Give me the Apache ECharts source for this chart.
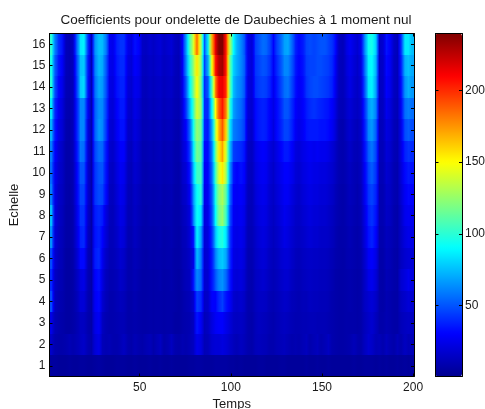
<!DOCTYPE html>
<html>
<head>
<meta charset="utf-8">
<title>Coefficients</title>
<script src="https://cdn.jsdelivr.net/npm/echarts@6/dist/echarts.min.js"></script>
<style>
html, body { margin: 0; padding: 0; background: #fff; }
#chart { width: 485px; height: 409px; }
</style>
</head>
<body>
<div id="chart"></div>
<script>
// une ligne par echelle, une valeur tous les 2 pas de temps
var echelle1 = [5,5,4,4,4,5,4,4,5,5, 4,4,5,6,5,4,4,4,5,5, 5,4,4,5,4,4,4,5,4,4, 5,4,4,5,4,4,4,4,5,5, 6,6,5,5,5,6,6,6,6,5, 5,4,5,4,4,4,4,5,5,4, 4,4,4,5,5,4,4,4,4,4, 5,4,4,5,4,4,5,4,4,4, 4,4,4,5,4,4,5,5,5,4, 5,4,5,4,4,5,4,5,4,5];
var echelle2 = [16,9,8,8,9,11,9,11,14,16, 10,8,20,24,12,10,11,9,9,11, 14,9,8,11,9,8,10,12,8,11, 14,8,10,14,9,8,10,9,11,14, 25,22,11,12,18,20,20,22,20,16, 13,11,14,12,9,8,12,13,12,11, 9,9,11,12,13,11,9,10,9,11, 13,9,11,13,9,11,14,9,8,7, 7,8,9,12,9,8,14,18,16,11, 12,9,13,10,8,12,9,14,11,12];
var echelle3 = [24,11,9,8,6,6,7,10,14,14, 9,7,24,28,14,10,9,9,10,11, 11,8,8,9,8,7,7,8,7,8, 8,7,8,8,6,6,8,9,10,14, 35,28,12,14,22,28,30,30,25,20, 15,14,15,13,9,8,12,14,13,12, 10,9,11,13,14,13,11,10,10,11, 11,12,12,11,11,11,10,9,8,7, 7,8,8,8,7,8,13,16,18,13, 8,8,10,9,7,7,12,14,15,14];
var echelle4 = [48,13,10,9,6,6,7,12,20,20, 10,7,28,32,18,12,9,9,11,13, 12,8,8,10,8,7,7,8,7,8, 8,7,8,8,7,6,8,10,12,18, 45,40,15,16,30,30,40,45,35,28, 18,16,18,15,9,9,13,15,15,14, 11,10,12,14,16,15,12,11,10,12, 12,14,13,13,12,12,11,9,8,7, 7,8,9,8,7,8,15,18,20,16, 8,7,10,9,7,7,14,17,20,18];
var echelle5 = [40,15,11,10,6,6,7,14,22,24, 11,7,30,34,22,13,10,10,12,16, 14,9,9,11,9,7,7,8,7,8, 9,7,8,9,7,6,9,12,14,35, 62,55,18,18,35,50,62,65,55,35, 22,20,22,18,10,9,14,16,18,16, 13,11,13,16,18,18,14,12,11,13, 14,15,14,14,13,13,12,10,8,7, 7,8,9,8,7,8,16,24,26,20, 8,7,11,10,8,7,18,22,26,22];
var echelle6 = [48,18,13,11,6,6,8,18,32,32, 12,7,36,40,26,16,11,11,14,18, 16,9,9,12,10,8,7,9,8,9, 9,8,9,9,7,7,10,12,16,25, 75,60,18,20,36,60,75,78,70,40, 24,22,24,20,10,10,15,18,20,18, 14,12,14,18,20,20,16,13,12,14, 15,16,15,15,14,14,13,11,9,8, 7,9,10,9,8,9,18,28,30,24, 8,8,12,11,8,7,14,18,20,20];
var echelle7 = [65,20,14,12,7,7,9,22,38,40, 14,7,34,38,30,20,12,12,16,22, 20,10,10,14,11,8,8,9,8,9, 10,8,9,10,8,7,11,13,20,35, 88,70,20,22,42,75,95,98,85,42, 26,24,26,22,11,11,16,20,22,20, 16,13,16,20,24,22,18,15,14,16, 18,20,18,18,16,16,15,13,10,8, 8,9,11,9,8,10,22,34,38,30, 9,9,13,12,9,8,15,22,25,24];
var echelle8 = [75,22,15,13,7,7,9,25,42,42, 16,7,36,40,36,22,13,12,18,24, 22,11,11,15,12,9,8,10,9,10, 10,9,10,10,8,8,12,15,22,60, 92,85,22,25,48,90,118,125,105,48, 28,26,28,24,12,12,18,22,24,22, 17,14,18,22,26,24,20,16,15,18, 20,22,20,20,18,18,16,14,11,9, 8,10,12,10,9,11,24,38,42,34, 10,10,15,14,9,8,16,26,28,26];
var echelle9 = [60,24,16,14,8,7,10,28,46,46, 18,8,42,48,46,32,14,13,20,26, 24,12,11,16,13,9,9,10,9,10, 11,9,10,11,8,8,14,17,28,65, 92,100,25,28,50,95,122,130,112,55, 30,28,30,26,13,12,20,24,26,24, 18,15,20,24,28,28,22,18,16,20, 22,24,22,22,20,20,18,16,12,9, 8,10,13,11,9,12,28,42,46,38, 10,10,16,15,10,9,18,28,32,30];
var echelle10 = [55,26,18,15,8,8,10,30,50,50, 18,8,42,50,50,34,16,14,22,28, 26,13,12,18,15,10,9,11,10,11, 12,10,11,12,9,8,16,20,35,75, 105,105,28,30,55,105,140,155,130,65, 35,30,34,30,14,13,22,26,28,26, 20,16,22,26,30,30,26,20,18,22, 24,26,24,24,22,22,20,18,14,10, 9,11,14,11,10,13,30,46,52,42, 11,11,18,16,10,9,20,32,36,34];
var echelle11 = [60,30,20,16,8,8,11,34,58,56, 20,8,46,56,54,36,18,16,24,30, 30,14,13,20,16,10,10,12,10,12, 13,10,12,12,9,9,18,25,45,85, 118,110,32,32,60,115,155,172,140,75, 45,42,40,34,15,14,24,28,30,28, 22,18,24,30,36,36,30,22,20,24, 26,28,26,28,26,26,24,20,15,10, 9,12,16,12,11,14,34,52,58,46, 12,12,20,18,11,10,22,38,42,40];
var echelle12 = [72,36,24,20,9,8,12,38,62,62, 22,9,52,66,62,44,20,18,28,34, 34,16,15,22,18,11,11,13,11,13, 14,11,13,13,10,9,20,30,55,95, 125,115,38,35,70,130,170,190,160,85, 60,56,52,44,18,16,32,36,38,36, 30,22,32,38,46,46,38,28,24,28, 34,36,36,36,34,34,32,28,20,10, 9,14,18,14,12,16,38,62,66,52, 12,13,22,20,12,10,24,48,52,48];
var echelle13 = [85,40,28,22,10,9,12,38,62,62, 28,9,52,64,62,46,22,20,30,36, 36,18,16,24,20,12,11,14,12,14, 15,12,14,14,11,10,22,42,75,105, 140,125,40,40,90,150,190,205,180,100, 68,60,55,45,20,18,32,36,38,36, 30,24,32,40,50,50,40,30,26,30, 36,40,42,40,38,36,34,30,22,12, 11,16,20,16,14,18,42,66,72,60, 13,14,26,22,13,11,28,56,60,56];
var echelle14 = [98,48,32,26,11,10,12,45,78,82, 34,10,56,70,66,50,24,22,34,38, 38,20,18,26,24,13,12,15,13,15, 16,13,15,16,12,11,25,50,90,118, 150,120,40,50,110,180,212,215,200,115, 75,65,60,50,22,20,40,44,46,44, 38,26,36,46,56,58,46,34,28,32, 42,46,48,48,46,44,42,38,26,13, 12,18,24,18,15,20,52,85,88,68, 14,15,30,26,14,12,32,65,72,66];
var echelle15 = [95,52,36,30,12,10,13,48,76,78, 36,10,60,74,70,52,26,24,36,40, 40,22,20,30,26,14,13,16,14,17, 18,14,16,18,13,11,28,60,100,125, 155,125,45,70,150,205,228,232,205,115, 80,70,62,52,25,20,42,46,50,48, 42,28,40,50,62,62,50,36,30,34, 44,46,46,48,48,46,44,40,28,13, 12,20,25,20,16,22,58,88,90,72, 14,16,32,28,14,12,36,72,76,70];
var echelle16 = [100,60,42,35,12,10,14,55,85,88, 42,12,64,76,74,60,28,25,38,42, 42,25,22,34,30,15,14,18,15,18, 20,15,18,20,14,12,30,65,110,140, 185,130,50,85,170,215,240,240,205,130, 90,72,62,50,25,20,44,50,56,54, 46,30,45,55,68,70,55,38,32,36, 46,48,46,48,50,50,46,42,32,14, 12,22,28,22,18,25,65,92,95,78, 15,18,35,30,15,12,40,85,85,75];

var lignes = [echelle1, echelle2, echelle3, echelle4, echelle5, echelle6, echelle7, echelle8,
    echelle9, echelle10, echelle11, echelle12, echelle13, echelle14, echelle15, echelle16];
var ticksTemps = [50, 100, 150, 200];
var ticksEchelle = [1, 2, 3, 4, 5, 6, 7, 8, 9, 10, 11, 12, 13, 14, 15, 16];
var ticksCouleur = [50, 100, 150, 200];
var pasTemps = 2;
var vMin = 0.7, vMax = 239.6;
var jet = ['#00008f', '#0000ff', '#0080ff', '#00ffff', '#80ff80', '#ffff00', '#ff8000', '#ff0000', '#800000'];

var cellules = [];
lignes.forEach(function (ligne, i) {
    ligne.forEach(function (v, k) {
        // voisins gardes pour le degrade horizontal de la cellule
        var avant = k > 0 ? ligne[k - 1] : v;
        var apres = k < ligne.length - 1 ? ligne[k + 1] : v;
        cellules.push([0.5 + k * pasTemps, 0.5 + (k + 1) * pasTemps, i + 1, v, avant, apres]);
    });
});

function couleurJet(v) {
    var t = Math.max(0, Math.min(1, (v - vMin) / (vMax - vMin)));
    return echarts.color.lerp(t, jet);
}

var police = 'Liberation Sans';
var couleurTexte = '#1a1a1a';

function axeCadre(extra) {
    return Object.assign({
        type: 'value',
        splitLine: { show: false },
        axisLine: { show: true, onZero: false, lineStyle: { color: '#000', width: 1 } },
        axisTick: { show: true, inside: true, length: 3, lineStyle: { color: '#000' } },
        axisLabel: { show: false },
        z: 5
    }, extra);
}
function ticks(valeurs) {
    return { show: true, inside: true, length: 3, customValues: valeurs, lineStyle: { color: '#000' } };
}
function labels(valeurs, marge) {
    return { show: true, customValues: valeurs, margin: marge, fontFamily: police, fontSize: 12, color: couleurTexte };
}

var myChart = echarts.init(document.getElementById('chart'), null, { renderer: 'canvas' });

var option = {
    backgroundColor: '#fff',
    animation: false,
    title: {
        text: 'Coefficients pour ondelette de Daubechies à 1 moment nul',
        left: 231, top: 8, textAlign: 'center',
        textStyle: { fontFamily: police, fontSize: 13.5, fontWeight: 'normal', color: couleurTexte }
    },
    grid: [
        { left: 49.5, top: 33.5, width: 364.5, height: 343, outerBoundsMode: 'none' },
        { left: 435.5, top: 33.5, width: 26.5, height: 343, outerBoundsMode: 'none' }
    ],
    xAxis: [
        axeCadre({
            gridIndex: 0, min: 0.5, max: 200.5, position: 'bottom',
            axisTick: ticks(ticksTemps),
            axisLabel: labels(ticksTemps, 5),
            name: 'Temps', nameLocation: 'middle', nameGap: 19,
            nameTextStyle: { fontFamily: police, fontSize: 13, color: couleurTexte }
        }),
        axeCadre({ gridIndex: 0, min: 0.5, max: 200.5, position: 'top', axisTick: ticks(ticksTemps) }),
        axeCadre({ gridIndex: 1, min: 0, max: 1, position: 'bottom', axisTick: { show: false } }),
        axeCadre({ gridIndex: 1, min: 0, max: 1, position: 'top', axisTick: { show: false } })
    ],
    yAxis: [
        axeCadre({
            gridIndex: 0, min: 0.5, max: 16.5, position: 'left',
            axisTick: ticks(ticksEchelle),
            axisLabel: labels(ticksEchelle, 4),
            name: 'Echelle', nameLocation: 'middle', nameGap: 21,
            nameTextStyle: { fontFamily: police, fontSize: 13, color: couleurTexte }
        }),
        axeCadre({ gridIndex: 0, min: 0.5, max: 16.5, position: 'right', axisTick: ticks(ticksEchelle) }),
        axeCadre({
            gridIndex: 1, min: vMin, max: vMax, position: 'right',
            axisTick: ticks(ticksCouleur),
            axisLabel: labels(ticksCouleur, 3)
        }),
        axeCadre({ gridIndex: 1, min: vMin, max: vMax, position: 'left', axisTick: ticks(ticksCouleur) })
    ],
    visualMap: {
        type: 'continuous',
        seriesIndex: 0,
        dimension: 3,
        min: vMin, max: vMax,
        calculable: false,
        hoverLink: false,
        text: ['', ''],
        showLabel: false,
        left: 435.5, top: 33.5,
        itemWidth: 26.5, itemHeight: 343,
        padding: 0,
        inRange: { color: jet },
        z: 1
    },
    series: [{
        type: 'custom',
        xAxisIndex: 0,
        yAxisIndex: 0,
        data: cellules,
        silent: true,
        encode: { x: [0, 1], y: 2 },
        renderItem: function (params, api) {
            var a = api.coord([api.value(0), api.value(2) + 0.5]);
            var b = api.coord([api.value(1), api.value(2) - 0.5]);
            var x0 = Math.round(a[0]), x1 = Math.round(b[0]);
            var y0 = Math.round(a[1]), y1 = Math.round(b[1]);
            var v = api.value(3);
            return {
                type: 'rect',
                shape: { x: x0, y: y0, width: x1 - x0, height: y1 - y0 },
                style: {
                    fill: new echarts.graphic.LinearGradient(0, 0, 1, 0, [
                        { offset: 0, color: couleurJet((api.value(4) + v) / 2) },
                        { offset: 0.5, color: couleurJet(v) },
                        { offset: 1, color: couleurJet((v + api.value(5)) / 2) }
                    ])
                }
            };
        }
    }]
};

myChart.setOption(option);
</script>
</body>
</html>
